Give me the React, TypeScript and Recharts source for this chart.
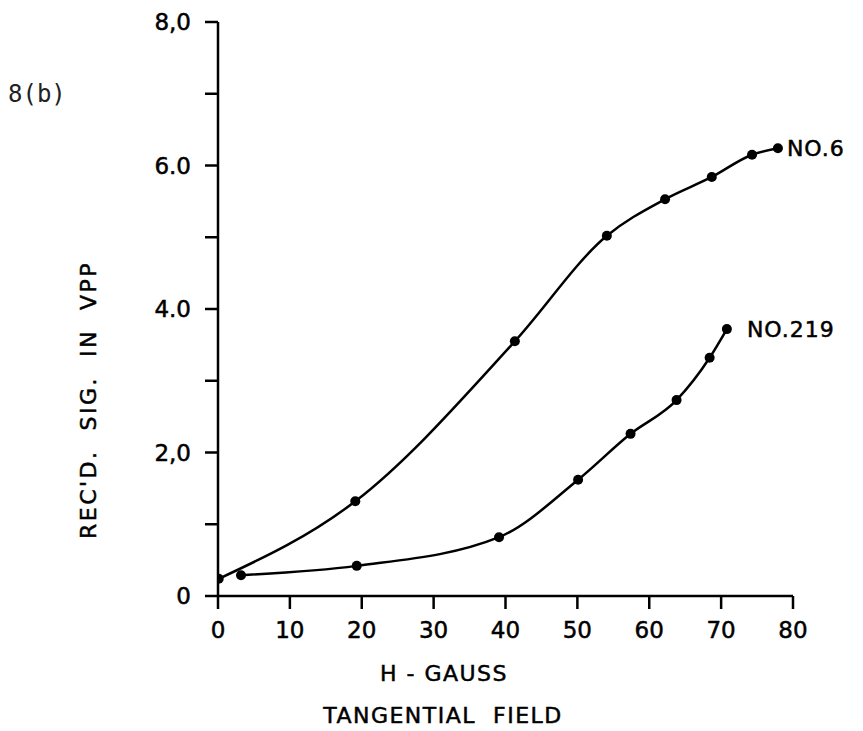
import { LineChart, Line, XAxis, YAxis, Label } from "recharts"

const xTicks = [0, 10, 20, 30, 40, 50, 60, 70, 80]
const yTicks = [0, 1, 2, 3, 4, 5, 6, 7, 8]
const yTickText: Record<number, string> = { 0: "0", 2: "2,0", 4: "4.0", 6: "6.0", 8: "8,0" }

const no6H = [0.1, 19.1, 41.3, 54.1, 62.2, 68.7, 74.3, 77.9]
const no6V = [0.24, 1.32, 3.55, 5.02, 5.53, 5.84, 6.15, 6.24]

const no219H = [3.2, 19.3, 39.1, 50.1, 57.4, 63.8, 68.4, 70.8]
const no219V = [0.29, 0.42, 0.82, 1.62, 2.26, 2.73, 3.32, 3.72]

const no6 = no6H.map((h, i) => ({ h, v: no6V[i] }))
const no219 = no219H.map((h, i) => ({ h, v: no219V[i] }))

const FONT = "DejaVu Sans, sans-serif"
const textStyle = { whiteSpace: "pre" as const }

const endLabel = (text: string, count: number, gap: number) => (props: any) => {
  const { x, y, index } = props
  if (index !== count - 1) return null
  return (
    <text
      x={x + gap}
      y={y}
      dy="0.36em"
      fontFamily={FONT}
      fontSize={22}
      fill="#000"
      stroke="#000"
      strokeWidth={0.5}
      letterSpacing={1}
    >
      {text}
    </text>
  )
}

const App = () => {
  return (
    <div style={{ position: "absolute", left: 0, top: 0, width: 863, height: 731, background: "#fff" }}>
      <div
        style={{
          position: "absolute",
          left: 8,
          top: 80,
          fontFamily: "DejaVu Sans Mono, monospace",
          fontSize: 24,
          color: "#222",
        }}
      >
        8(b)
      </div>
      <LineChart width={863} height={731} margin={{ top: 22, right: 70, bottom: 0, left: 0 }}>
        <XAxis
          dataKey="h"
          type="number"
          domain={[0, 80]}
          ticks={xTicks}
          allowDataOverflow
          stroke="#000"
          strokeWidth={2.5}
          tickSize={13}
          tickMargin={13}
          tick={{ fill: "#000", fontSize: 23, fontFamily: FONT, stroke: "#000", strokeWidth: 0.5 }}
          height={135}
        >
          <Label
            content={() => (
              <g fontFamily={FONT} fontSize={22} fill="#000" stroke="#000" strokeWidth={0.5}>
                <text x={444} y={673} textAnchor="middle" dy="0.36em" letterSpacing={1.5} style={textStyle}>
                  H - GAUSS
                </text>
                <text x={443} y={715} textAnchor="middle" dy="0.36em" letterSpacing={1.5} style={textStyle}>
                  TANGENTIAL  FIELD
                </text>
              </g>
            )}
          />
        </XAxis>
        <YAxis
          type="number"
          domain={[0, 8]}
          ticks={yTicks}
          interval={0}
          width={218}
          stroke="#000"
          strokeWidth={2.5}
          tickSize={13}
          tickMargin={14}
          tickFormatter={(v: number) => yTickText[v] ?? ""}
          tick={{ fill: "#000", fontSize: 23, fontFamily: FONT, stroke: "#000", strokeWidth: 0.5 }}
        >
          <Label
            content={() => (
              <text
                x={88}
                y={400}
                textAnchor="middle"
                dy="0.36em"
                transform="rotate(-90, 88, 400)"
                fontFamily={FONT}
                fontSize={22}
                fill="#000"
                stroke="#000"
                strokeWidth={0.5}
                letterSpacing={2.5}
                style={textStyle}
              >
                REC'D.  SIG.  IN  VPP
              </text>
            )}
          />
        </YAxis>
        <Line
          data={no6}
          dataKey="v"
          type="monotone"
          stroke="#000"
          strokeWidth={2.5}
          dot={{ r: 5, fill: "#000", stroke: "#000", strokeWidth: 0 }}
          isAnimationActive={false}
          label={endLabel("NO.6", no6.length, 9)}
        />
        <Line
          data={no219}
          dataKey="v"
          type="monotone"
          stroke="#000"
          strokeWidth={2.5}
          dot={{ r: 5, fill: "#000", stroke: "#000", strokeWidth: 0 }}
          isAnimationActive={false}
          label={endLabel("NO.219", no219.length, 20)}
        />
      </LineChart>
    </div>
  )
}

export default App
